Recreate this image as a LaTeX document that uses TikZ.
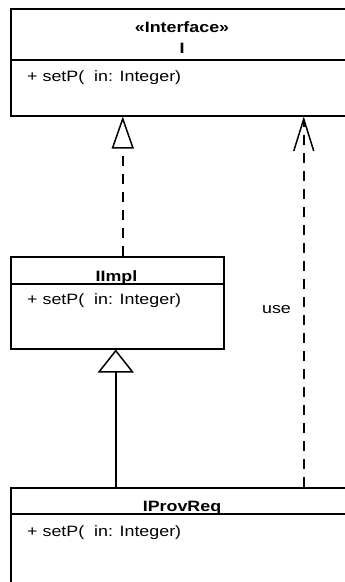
\documentclass[tikz,border=0pt]{standalone}
\usepackage{fontspec}
\setmainfont{Liberation Sans}
\usetikzlibrary{arrows.meta,positioning}

\tikzset{
  classbox/.style={draw, line width=1.5pt, anchor=north west, inner sep=0pt},
  nametext/.style={font=\bfseries\fontsize{15}{18}\selectfont, inner sep=0pt, anchor=base, xscale=1.19, transform shape},
  optext/.style={font=\fontsize{15}{18}\selectfont, inner sep=0pt, anchor=base west, xscale=1.19, transform shape},
  realize/.style={line width=1.5pt, dash pattern=on 10pt off 8pt, -{Triangle[open,length=32pt,width=22pt]}},
  generalize/.style={line width=1.5pt, -{Triangle[open,length=23pt,width=36pt]}},
  depend/.style={line width=1.5pt, dash pattern=on 10pt off 8pt, -{Straight Barb[length=32pt,width=20pt]}}
}

\begin{document}
\begin{tikzpicture}[x=1pt, y=-1pt]
  \useasboundingbox (0,0) rectangle (345,582);
  \clip (0,0) rectangle (345,582);

  % interface I
  \node[classbox, minimum width=344pt, minimum height=107pt] (iface) at (10,8) {};
  \draw[line width=1.5pt] ([yshift=-52pt]iface.north west) -- ([yshift=-52pt]iface.north east);
  \node[nametext] (ifacestereo) at (182,32) {«Interface»};
  \node[nametext] (ifacename) at (182,53) {I};
  \node[optext] (ifaceop) at (27,81) {+ setP(\ \ in: Integer)};

  % class IImpl
  \node[classbox, minimum width=213pt, minimum height=92pt] (iimpl) at (10,256) {};
  \draw[line width=1.5pt] ([yshift=-28pt]iimpl.north west) -- ([yshift=-28pt]iimpl.north east);
  \node[nametext] (iimplname) at (116.5,281) {IImpl};
  \node[optext] (iimplop) at (27,304) {+ setP(\ \ in: Integer)};

  % class IProvReq
  \node[classbox, minimum width=344pt, minimum height=120pt] (iprov) at (10,487) {};
  \draw[line width=1.5pt] ([yshift=-27pt]iprov.north west) -- ([yshift=-27pt]iprov.north east);
  \node[nametext] (iprovname) at (182,511) {IProvReq};
  \node[optext] (iprovop) at (27,536) {+ setP(\ \ in: Integer)};

  % relations
  \draw[realize] ([xshift=5.5pt]iimpl.north) -- ([xshift=5.5pt]iimpl.north |- iface.south);
  \draw[generalize] ([xshift=-67pt]iprov.north) -- ([xshift=-67pt]iprov.north |- iimpl.south);
  \draw[depend] ([xshift=121pt]iprov.north) -- ([xshift=121pt]iface.south)
    node[pos=0.48, left=8pt, font=\fontsize{15}{18}\selectfont, xscale=1.19, transform shape] (uselabel) {use};
\end{tikzpicture}
\end{document}
